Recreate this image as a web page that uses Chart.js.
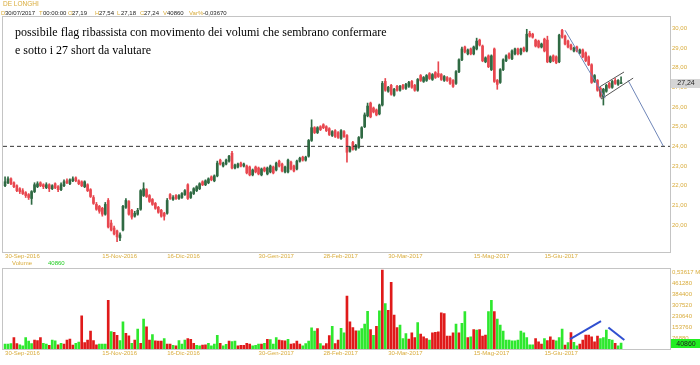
<!DOCTYPE html>
<html>
<head>
<meta charset="utf-8">
<script src="https://cdn.jsdelivr.net/npm/chart.js@4/dist/chart.umd.min.js"></script>
<style>
  body { margin: 0; background: #fff; width: 700px; height: 365px; position: relative; overflow: hidden; font-family: "Liberation Sans", Arial, sans-serif; }
  canvas { position: absolute; left: 0; }
  #price { top: 0; }
  #vol { top: 263px; }
  .t { position: absolute; font-size: 6px; line-height: 8px; white-space: nowrap; color: #222; }
  .g { color: #d9ac3c; }
  .note { position: absolute; left: 15px; font-family: "Liberation Serif", "Times New Roman", serif; font-size: 12px; line-height: 14px; color: #000; white-space: nowrap; }
</style>
</head>
<body>
<canvas id="price" width="700" height="263"></canvas>
<canvas id="vol" width="700" height="102"></canvas>

<div class="t g" style="left:3px;top:0px;font-size:6.5px">DE LONGHI</div>
<div class="t g" style="left:1px;top:9px">D</div><div class="t" style="left:5px;top:9px">30/07/2017</div>
<div class="t g" style="left:39px;top:9px">T</div><div class="t" style="left:43px;top:9px">00:00:00</div>
<div class="t g" style="left:68px;top:9px">O</div><div class="t" style="left:72px;top:9px">27,19</div>
<div class="t g" style="left:95px;top:9px">H</div><div class="t" style="left:99px;top:9px">27,54</div>
<div class="t g" style="left:117px;top:9px">L</div><div class="t" style="left:121px;top:9px">27,18</div>
<div class="t g" style="left:140px;top:9px">C</div><div class="t" style="left:144px;top:9px">27,24</div>
<div class="t g" style="left:163px;top:9px">V</div><div class="t" style="left:167px;top:9px">40860</div>
<div class="t g" style="left:189px;top:9px">Var%</div><div class="t" style="left:203px;top:9px">-0,03670</div>
<div class="t g" style="left:12px;top:259px">Volume</div>
<div class="t" style="left:48px;top:259px;color:#22cc22">40860</div>

<div class="note" style="top:25px">possibile flag ribassista con movimento dei volumi che sembrano confermare</div>
<div class="note" style="top:43px">e sotto i 27 short da valutare</div>

<script>
'use strict';
// daily candles, 30-Sep-2016 .. 28-Jul-2017
var opens = [
  22.00,22.15,22.35,22.15,22.00,21.85,21.75,21.65,21.55,21.35,
  21.70,21.95,22.15,22.05,21.90,22.05,21.85,22.10,21.95,21.80,
  22.00,22.25,22.10,22.25,22.40,22.25,22.20,21.95,22.05,21.80,
  21.40,21.05,20.95,20.85,20.55,21.25,20.10,19.85,19.70,19.35,
  19.75,20.90,21.20,20.75,20.45,20.55,20.80,21.50,21.80,21.50,
  21.30,21.10,20.90,20.75,20.60,20.60,21.55,21.30,21.50,21.35,
  21.40,21.55,22.05,21.40,21.60,21.75,21.85,22.20,22.05,22.15,
  22.45,22.25,22.50,23.30,23.00,23.10,23.25,23.65,22.90,22.95,
  23.15,23.00,23.00,22.95,22.55,22.95,22.90,22.55,22.90,22.60,
  22.70,22.95,22.80,23.25,23.10,22.70,22.70,23.20,23.00,22.85,
  23.25,23.45,23.30,23.50,24.30,24.95,24.70,25.00,25.10,25.00,
  24.90,24.55,24.80,24.70,24.40,24.75,24.55,23.75,24.20,23.85,
  23.95,24.45,25.00,25.55,26.20,25.95,25.85,25.65,26.10,27.30,
  26.80,27.10,26.60,27.05,26.85,27.10,26.95,27.05,27.30,27.10,
  26.85,27.60,27.30,27.35,27.70,27.40,27.75,27.70,27.65,27.35,
  27.50,27.45,27.35,27.20,27.80,28.40,29.05,28.70,28.95,28.70,
  28.95,29.40,29.10,28.30,28.60,27.90,28.95,27.35,27.25,27.90,
  28.35,28.70,28.45,28.70,28.95,28.70,29.00,28.85,29.75,29.70,
  29.40,29.35,29.05,29.45,29.40,28.30,28.60,28.55,28.30,29.90,
  29.60,29.35,29.15,28.85,29.05,28.75,28.90,28.75,28.55,28.15,
  27.30,27.35,26.95,26.50,26.80,27.20,27.00,27.35,27.15,27.19
];
var highs = [
  22.45,22.45,22.40,22.20,22.05,21.90,21.85,21.70,21.60,21.75,
  22.15,22.20,22.20,22.10,22.15,22.10,22.05,22.15,22.00,22.15,
  22.30,22.35,22.35,22.45,22.45,22.30,22.25,22.25,22.10,21.85,
  21.50,21.15,21.00,20.90,21.15,21.35,20.25,19.95,19.75,19.60,
  21.00,21.35,21.25,20.80,20.70,20.85,21.80,22.15,21.85,21.55,
  21.35,21.15,20.95,20.80,20.65,21.35,21.60,21.50,21.55,21.55,
  21.65,21.80,22.10,21.70,21.90,22.00,22.15,22.25,22.30,22.40,
  22.50,22.55,23.25,23.35,23.20,23.35,23.55,23.75,23.10,23.15,
  23.20,23.15,23.05,23.00,22.85,23.00,22.95,22.90,22.95,22.95,
  23.05,23.00,23.20,23.30,23.15,23.00,23.35,23.25,23.05,23.30,
  23.45,23.50,23.50,24.35,25.35,25.00,25.00,25.05,25.15,25.05,
  24.95,24.80,24.85,24.75,24.85,24.80,24.60,24.00,24.25,24.10,
  24.50,25.00,25.70,26.20,26.25,26.00,25.90,26.15,27.30,27.45,
  27.05,27.15,26.95,27.10,27.10,27.15,27.20,27.30,27.35,27.15,
  27.45,27.65,27.55,27.65,27.75,27.70,27.80,28.30,27.70,27.60,
  27.55,27.50,27.40,27.85,28.45,29.05,29.10,28.95,29.00,29.10,
  29.50,29.45,29.15,28.55,28.65,28.65,29.00,27.40,27.95,28.45,
  28.65,28.75,28.90,29.00,29.00,29.00,29.05,29.95,29.85,29.75,
  29.45,29.40,29.25,29.50,29.60,28.60,28.65,28.60,29.70,29.95,
  29.65,29.40,29.20,29.05,29.10,28.95,28.95,28.80,28.60,28.20,
  27.65,27.40,27.00,26.95,27.15,27.25,27.35,27.45,27.40,27.54
];
var lows = [
  21.95,22.10,22.05,21.90,21.70,21.60,21.55,21.40,21.30,21.05,
  21.65,21.90,21.95,21.85,21.85,21.70,21.80,21.85,21.70,21.75,
  21.95,22.10,22.05,22.20,22.20,22.05,21.95,21.90,21.70,21.40,
  21.05,20.75,20.60,20.45,20.50,19.85,19.70,19.50,19.15,19.20,
  19.70,20.85,20.50,20.30,20.40,20.50,20.75,21.45,21.40,21.15,
  21.00,20.80,20.60,20.40,20.25,20.55,21.30,21.25,21.30,21.30,
  21.35,21.50,21.30,21.35,21.55,21.70,21.80,22.00,22.00,22.10,
  22.25,22.20,22.45,23.05,22.95,23.05,23.20,22.85,22.85,22.90,
  22.95,22.95,22.60,22.50,22.50,22.65,22.55,22.50,22.70,22.55,
  22.65,22.60,22.75,22.95,22.70,22.65,22.65,22.80,22.70,22.80,
  23.20,23.25,23.25,23.45,24.25,24.65,24.65,24.80,24.90,24.75,
  24.55,24.50,24.45,24.40,24.35,24.45,23.20,23.70,23.80,23.80,
  23.90,24.40,24.95,25.50,25.45,25.70,25.55,25.60,26.05,26.80,
  26.75,26.60,26.55,26.80,26.80,26.90,26.90,27.00,26.95,26.80,
  26.80,27.30,27.25,27.30,27.40,27.35,27.45,27.50,27.35,27.30,
  27.30,27.15,27.00,27.15,27.75,28.35,28.75,28.65,28.65,28.65,
  28.90,29.10,28.30,28.25,28.00,27.85,27.25,26.90,27.20,27.85,
  28.30,28.45,28.40,28.65,28.65,28.65,28.80,28.80,29.55,29.50,
  29.05,29.00,29.00,28.80,28.25,28.25,28.30,28.20,28.25,29.50,
  29.15,29.00,28.90,28.80,28.80,28.70,28.50,28.30,28.10,27.20,
  27.25,26.80,26.50,26.10,26.75,26.95,26.95,27.15,27.10,27.18
];
var closes = [
  22.20,22.35,22.10,21.95,21.75,21.70,21.60,21.50,21.40,21.70,
  22.05,22.10,22.00,21.95,22.05,21.85,22.00,21.90,21.80,22.05,
  22.20,22.15,22.30,22.35,22.25,22.10,22.00,22.20,21.75,21.45,
  21.10,20.80,20.70,20.55,21.05,19.90,19.75,19.55,19.40,19.50,
  20.95,21.25,20.55,20.40,20.60,20.75,21.75,21.85,21.45,21.20,
  21.05,20.85,20.65,20.45,20.45,21.25,21.35,21.40,21.35,21.50,
  21.60,21.75,21.35,21.65,21.85,21.95,22.10,22.05,22.25,22.35,
  22.30,22.50,23.15,23.10,23.15,23.30,23.50,22.90,23.05,23.10,
  23.00,23.10,22.65,22.55,22.80,22.70,22.60,22.85,22.75,22.90,
  23.00,22.65,23.15,23.00,22.75,22.95,23.30,22.85,22.75,23.25,
  23.40,23.30,23.45,24.30,24.95,24.70,24.95,24.85,24.95,24.80,
  24.60,24.75,24.50,24.45,24.80,24.50,23.70,23.95,23.85,24.05,
  24.45,24.95,25.60,26.05,25.50,25.75,25.60,26.10,27.20,26.85,
  27.00,26.65,26.90,26.85,27.05,26.95,27.15,27.25,27.00,26.85,
  27.40,27.35,27.50,27.60,27.45,27.65,27.50,27.55,27.40,27.55,
  27.35,27.20,27.05,27.80,28.40,28.95,28.80,28.90,28.70,29.05,
  29.35,29.15,28.35,28.50,28.05,28.60,27.30,27.15,27.90,28.40,
  28.60,28.50,28.85,28.95,28.70,28.95,28.85,29.70,29.60,29.55,
  29.10,29.05,29.20,28.85,28.30,28.55,28.35,28.25,29.65,29.55,
  29.20,29.05,28.95,29.00,28.85,28.90,28.55,28.35,28.15,27.25,
  27.60,26.85,26.55,26.90,27.10,27.00,27.30,27.20,27.35,27.24
];
var volumes = [
  35000,35000,38000,80000,38000,30000,22000,80000,55000,38000,
  63000,60000,80000,40000,35000,25000,62000,58000,30000,40000,
  35000,62000,70000,28000,40000,48000,233000,45000,63000,126000,
  60000,30000,35000,35000,35000,342000,122000,118000,97000,60000,
  191000,110000,92000,40000,63000,140000,40000,210000,156000,63000,
  102000,58000,55000,55000,74000,35000,35000,25000,22000,60000,
  35000,62000,74000,68000,40000,25000,22000,28000,30000,40000,
  22000,35000,97000,40000,22000,32000,55000,52000,55000,22000,
  25000,25000,40000,35000,22000,25000,35000,35000,40000,68000,
  66000,35000,80000,63000,60000,58000,68000,35000,38000,55000,
  35000,22000,38000,55000,149000,126000,143000,38000,22000,38000,
  95000,160000,38000,63000,145000,114000,372000,191000,151000,128000,
  128000,144000,175000,266000,137000,97000,160000,268000,555000,319000,
  273000,470000,238000,151000,168000,74000,109000,70000,113000,80000,
  186000,105000,86000,74000,63000,114000,117000,121000,254000,249000,
  91000,91000,114000,175000,114000,180000,263000,80000,86000,137000,
  133000,137000,91000,98000,263000,342000,263000,210000,168000,126000,
  63000,63000,58000,58000,63000,126000,114000,80000,30000,30000,
  74000,51000,35000,74000,60000,86000,63000,58000,80000,140000,
  27000,45000,116000,47000,22000,35000,63000,98000,98000,86000,
  51000,91000,74000,80000,133000,68000,63000,40000,22000,40860
];
// g = green volume bar, r = red volume bar
var volSide = ('gggrrggggg' + 'rrrggrggrg' + 'rrrrggrrrr' + 'rrgggrgrrg' + 'grrgrgrgrr' +
  'grrrgrrgrg' + 'ggrrrggrrg' + 'gggrggrggr' + 'rrrrgggrgr' + 'gggrrrgrrr' +
  'rgggggrgrr' + 'rgrrggrrrr' + 'ggggrgrgrg' + 'rrrrgggrrr' + 'grrrgrrrrr' +
  'rrrgrggrgr' + 'grrrggrggg' + 'gggggggggg' + 'rrrgrrrggg' + 'rgrggrrrrr' +
  'rrgggggrgg').split('');

var dateTickIdx = [0, 33, 55, 86, 108, 130, 159, 183];
var dateTickLbl = ['30-Sep-2016', '15-Nov-2016', '16-Dic-2016', '30-Gen-2017', '28-Feb-2017', '30-Mar-2017', '15-Mag-2017', '15-Giu-2017'];
var priceTicks = [20, 21, 22, 23, 24, 25, 26, 27, 28, 29, 30];
var volTicks = [76880, 153760, 230640, 307520, 384400, 461280, 536170];

// drawn lines (index, value)
var supportLevel = 24;
var downLine = [[190, 29.9], [203.6, 26.45]];
var flagTop = [[201.6, 27.01], [210, 27.78]];
var flagBottom = [[202.3, 26.41], [213.1, 27.47]];
var flagLeft = [[201.6, 27.01], [202.3, 26.41]];
var projLine = [[211.4, 27.35], [223.3, 24.02]];
var volUp = [[191.7, 70000], [202.2, 196000]];
var volDown = [[204.7, 152000], [210.1, 63000]];

var gold = '#d9ac3c';
var upCol = '#2f6a43', dnCol = '#e8474f';
var xMin = -0.7, xMax = 225.6;
var last = closes.length - 1;

Chart.defaults.font.family = '"Liberation Sans", Arial, sans-serif';

function pts(arr) {
  return arr.map(function (p) { return { x: p[0], y: p[1] }; });
}
function lineSet(arr, color, width, dash) {
  return { type: 'line', data: pts(arr), borderColor: color, borderWidth: width, borderDash: dash || [], pointRadius: 0, order: 0 };
}
function candleCol(ctx) {
  var i = ctx.dataIndex;
  return closes[i] >= opens[i] ? upCol : dnCol;
}
function itFmt(v) {
  return v.toFixed(2).replace('.', ',');
}

var frame = {
  id: 'frame',
  beforeDatasetsDraw: function (chart) {
    var a = chart.chartArea, ctx = chart.ctx;
    ctx.save();
    ctx.strokeStyle = '#c4c4c4';
    ctx.lineWidth = 1;
    ctx.strokeRect(Math.round(a.left) - 0.5, Math.round(a.top) - 0.5, Math.round(a.right - a.left) + 1, Math.round(a.bottom - a.top) + 1);
    ctx.restore();
  }
};

function tag(value, text, bg) {
  return {
    id: 'tag',
    afterDraw: function (chart) {
      var a = chart.chartArea, ctx = chart.ctx;
      var y = chart.scales.y.getPixelForValue(value);
      ctx.save();
      ctx.fillStyle = bg;
      ctx.fillRect(a.right + 1, Math.round(y) - 4, 30, 9);
      ctx.fillStyle = '#222';
      ctx.font = '7px "Liberation Sans"';
      ctx.textAlign = 'center';
      ctx.textBaseline = 'middle';
      ctx.fillText(text, a.right + 16, y + 0.5);
      ctx.restore();
    }
  };
}

function xScale(h) {
  return {
    type: 'linear', min: xMin, max: xMax, offset: false,
    grid: { display: false, drawTicks: false },
    border: { display: false },
    afterBuildTicks: function (s) { s.ticks = dateTickIdx.map(function (v) { return { value: v }; }); },
    afterFit: function (s) { s.height = h; },
    ticks: {
      autoSkip: false, maxRotation: 0, align: 'start', padding: 1, color: gold, font: { size: 6 },
      callback: function (v, i) { return dateTickLbl[i]; }
    }
  };
}

var idx = closes.map(function (c, i) { return i; });

new Chart(document.getElementById('price'), {
  type: 'bar',
  data: {
    datasets: [
      { data: idx.map(function (i) { return { x: i, y: [lows[i], highs[i]] }; }), backgroundColor: candleCol, barThickness: 1, grouped: false, order: 2 },
      { data: idx.map(function (i) { return { x: i, y: [opens[i], closes[i]] }; }), backgroundColor: candleCol, barThickness: 2, minBarLength: 1, grouped: false, order: 1 },
      lineSet([[xMin, supportLevel], [xMax, supportLevel]], '#333', 1, [4, 3]),
      lineSet(downLine, '#6f86b8', 1),
      lineSet(flagTop, '#555', 1),
      lineSet(flagBottom, '#555', 1),
      lineSet(flagLeft, '#555', 1),
      lineSet(projLine, '#6f86b8', 1)
    ]
  },
  options: {
    responsive: false,
    animation: false,
    plugins: { legend: { display: false }, tooltip: { enabled: false } },
    layout: { padding: { top: 17, left: 3, right: 0, bottom: 0 } },
    scales: {
      x: xScale(11),
      y: {
        position: 'right', min: 18.63, max: 30.575,
        grid: { display: false, drawTicks: false },
        border: { display: false },
        afterBuildTicks: function (s) { s.ticks = priceTicks.map(function (v) { return { value: v }; }); },
        afterFit: function (s) { s.width = 30; },
        ticks: { padding: 2, color: gold, font: { size: 6 }, callback: function (v) { return itFmt(v); } }
      }
    }
  },
  plugins: [frame, tag(closes[last], itFmt(closes[last]), '#d6d6d6')]
});

new Chart(document.getElementById('vol'), {
  type: 'bar',
  data: {
    datasets: [
      {
        data: idx.map(function (i) { return { x: i, y: volumes[i] }; }),
        backgroundColor: function (ctx) { return volSide[ctx.dataIndex] === 'g' ? '#2ee82e' : '#e01a1a'; },
        barThickness: 2, order: 1
      },
      lineSet(volUp, '#2f4fd0', 2),
      lineSet(volDown, '#2f4fd0', 2)
    ]
  },
  options: {
    responsive: false,
    animation: false,
    plugins: { legend: { display: false }, tooltip: { enabled: false } },
    layout: { padding: { top: 5, left: 3, right: 0, bottom: 0 } },
    scales: {
      x: xScale(16),
      y: {
        position: 'right', min: 0, max: 566000,
        grid: { display: false, drawTicks: false },
        border: { display: false },
        afterBuildTicks: function (s) { s.ticks = volTicks.map(function (v) { return { value: v }; }); },
        afterFit: function (s) { s.width = 30; },
        ticks: {
          padding: 2, color: gold, font: { size: 6 },
          callback: function (v) { return v === 536170 ? '0,53617 M' : String(v); }
        }
      }
    }
  },
  plugins: [frame, tag(volumes[last], String(volumes[last]), '#22ee22')]
});
</script>
</body>
</html>
